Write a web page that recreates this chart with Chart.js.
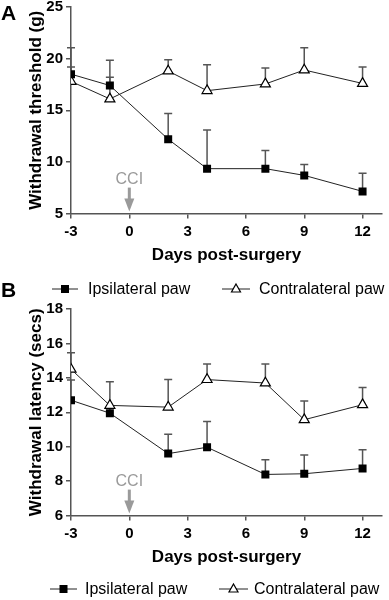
<!DOCTYPE html>
<html>
<head>
<meta charset="utf-8">
<script src="https://cdn.jsdelivr.net/npm/chart.js@4.4.1/dist/chart.umd.min.js"></script>
<style>
  body { margin: 0; background: #fff; }
  .panel { position: relative; width: 389px; height: 300px; }
  .tag { position: absolute; left: 1px; font: bold 21px "Liberation Sans", Arial, sans-serif; line-height: 1; }
</style>
</head>
<body>
<div class="panel"><canvas id="chartA"></canvas><div class="tag" style="top:2px">A</div></div>
<div class="panel"><canvas id="chartB"></canvas><div class="tag" style="top:-21px">B</div></div>
<script>
// days after surgery where measurements were taken
const days = [-3, -1, 2, 4, 7, 9, 12];

// panel A: withdrawal threshold (g), mean and SEM
const ipsiThreshold = [18.5, 17.4, 12.2, 9.35, 9.35, 8.7, 7.15];
const ipsiThresholdErr = [2.55, 2.45, 2.5, 3.75, 1.75, 1.05, 1.75];
const contraThreshold = [17.8, 16.1, 18.8, 16.9, 17.55, 18.9, 17.6];
const contraThresholdErr = [1.4, 2.1, 1.1, 2.5, 1.55, 2.15, 1.6];

// panel B: withdrawal latency (secs), mean and SEM
const ipsiLatency = [12.7, 11.95, 9.6, 9.97, 8.39, 8.43, 8.74];
const ipsiLatencyErr = [1.17, 0.35, 1.13, 1.5, 0.86, 1.09, 1.09];
const contraLatency = [14.5, 12.4, 12.3, 13.9, 13.7, 11.57, 12.44];
const contraLatencyErr = [0.96, 1.37, 1.6, 0.9, 1.1, 1.08, 1.0];

const seriesLabels = ['Ipsilateral paw', 'Contralateral paw'];
const surgeryDay = 0;
const surgeryLabel = 'CCI';

const FONT = '"Liberation Sans", Arial, Helvetica, sans-serif';
const AXIS_GREY = '#555';

// one-sided (upward) error bars with caps
const errorBars = {
  id: 'errorBars',
  beforeDatasetsDraw(chart) {
    const ctx = chart.ctx;
    const y = chart.scales.y;
    ctx.save();
    ctx.strokeStyle = AXIS_GREY;
    ctx.lineWidth = 1.5;
    chart.data.datasets.forEach((ds, i) => {
      const meta = chart.getDatasetMeta(i);
      meta.data.forEach((pt, j) => {
        const top = y.getPixelForValue(ds.data[j].y + ds.errors[j]);
        ctx.beginPath();
        ctx.moveTo(pt.x, pt.y);
        ctx.lineTo(pt.x, top);
        ctx.moveTo(pt.x - 4, top);
        ctx.lineTo(pt.x + 4, top);
        ctx.stroke();
      });
    });
    ctx.restore();
  }
};

// grey "CCI" label with a down arrow at the surgery day
const surgeryMark = {
  id: 'surgeryMark',
  afterDraw(chart) {
    const ctx = chart.ctx;
    const x = chart.scales.x.getPixelForValue(surgeryDay);
    const b = chart.chartArea.bottom;
    ctx.save();
    ctx.fillStyle = '#9a9a9a';
    ctx.font = '16px ' + FONT;
    ctx.textAlign = 'center';
    ctx.textBaseline = 'middle';
    ctx.fillText(surgeryLabel, x, b - 34);
    ctx.fillRect(x - 1.5, b - 26, 3, 12);
    ctx.beginPath();
    ctx.moveTo(x - 5, b - 15);
    ctx.lineTo(x + 5, b - 15);
    ctx.lineTo(x, b - 2);
    ctx.closePath();
    ctx.fill();
    ctx.restore();
  }
};

function drawMarker(ctx, ds, x, y) {
  ctx.fillStyle = ds.pointBackgroundColor;
  ctx.strokeStyle = ds.pointBorderColor;
  ctx.lineWidth = 1.2;
  if (ds.pointStyle === 'rect') {
    ctx.fillRect(x - 4, y - 4, 8, 8);
  } else {
    ctx.beginPath();
    ctx.moveTo(x, y - 5);
    ctx.lineTo(x + 4.5, y + 3);
    ctx.lineTo(x - 4.5, y + 3);
    ctx.closePath();
    ctx.fill();
    ctx.stroke();
  }
}

// legend row: short line with marker, then label
const lineLegend = {
  id: 'lineLegend',
  afterDraw(chart, args, opts) {
    const ctx = chart.ctx;
    ctx.save();
    ctx.font = '16px ' + FONT;
    ctx.textBaseline = 'middle';
    chart.data.datasets.forEach((ds, i) => {
      const it = opts.items[i];
      ctx.strokeStyle = '#222';
      ctx.lineWidth = 1;
      ctx.beginPath();
      ctx.moveTo(it.x0, opts.y);
      ctx.lineTo(it.x1, opts.y);
      ctx.stroke();
      drawMarker(ctx, ds, (it.x0 + it.x1) / 2, opts.y);
      ctx.fillStyle = '#000';
      ctx.fillText(ds.label, it.text, opts.y + 1);
    });
    ctx.restore();
  }
};

function points(values) {
  return values.map((v, i) => ({ x: days[i], y: v }));
}

function makeChart(id, p) {
  const tickFont = { family: FONT, size: 15, weight: 'bold', lineHeight: 1.2 };
  const titleFont = { family: FONT, size: 17, weight: 'bold', lineHeight: 1.2 };
  const grid = { drawOnChartArea: false, drawTicks: true, tickLength: 5, color: AXIS_GREY, lineWidth: 1.5 };
  const border = { color: AXIS_GREY, width: 1.5 };
  return new Chart(document.getElementById(id), {
    type: 'line',
    data: {
      datasets: [
        {
          label: seriesLabels[0],
          data: points(p.ipsi),
          errors: p.ipsiErr,
          borderColor: '#222',
          borderWidth: 1,
          pointStyle: 'rect',
          pointRadius: 5.66,
          pointBackgroundColor: '#000',
          pointBorderColor: '#000',
          pointBorderWidth: 0
        },
        {
          label: seriesLabels[1],
          data: points(p.contra),
          errors: p.contraErr,
          borderColor: '#222',
          borderWidth: 1,
          pointStyle: 'triangle',
          pointRadius: 5.8,
          pointBackgroundColor: '#fff',
          pointBorderColor: '#000',
          pointBorderWidth: 1.2
        }
      ]
    },
    options: {
      responsive: true,
      maintainAspectRatio: false,
      animation: false,
      layout: { padding: { top: p.top, right: 6, bottom: p.bottom, left: 0 } },
      plugins: {
        legend: { display: false },
        tooltip: { enabled: false },
        lineLegend: p.legend
      },
      scales: {
        x: {
          type: 'linear',
          min: -3,
          max: 13,
          ticks: { stepSize: 3, includeBounds: false, font: tickFont, color: '#000', padding: 4 },
          grid: grid,
          border: border,
          title: { display: true, text: 'Days post-surgery', font: titleFont, color: '#000', padding: { top: 1, bottom: 0 } }
        },
        y: {
          min: p.yMin,
          max: p.yMax,
          ticks: { stepSize: p.yStep, font: tickFont, color: '#000', padding: 3 },
          grid: grid,
          border: border,
          title: { display: true, text: p.yTitle, font: titleFont, color: '#000', padding: { top: 26, bottom: 0 } },
          afterFit(s) { s.width = 71; s.paddingTop = 0; }
        }
      }
    },
    plugins: [errorBars, surgeryMark, lineLegend]
  });
}

makeChart('chartA', {
  ipsi: ipsiThreshold, ipsiErr: ipsiThresholdErr,
  contra: contraThreshold, contraErr: contraThresholdErr,
  yMin: 5, yMax: 25, yStep: 5, yTitle: 'Withdrawal threshold (g)',
  top: 6, bottom: 34,
  legend: { y: 289, items: [{ x0: 52, x1: 78, text: 88 }, { x0: 222, x1: 250, text: 259 }] }
});

makeChart('chartB', {
  ipsi: ipsiLatency, ipsiErr: ipsiLatencyErr,
  contra: contraLatency, contraErr: contraLatencyErr,
  yMin: 6, yMax: 18, yStep: 2, yTitle: 'Withdrawal latency (secs)',
  top: 9, bottom: 32,
  legend: { y: 289, items: [{ x0: 50, x1: 77, text: 85 }, { x0: 219, x1: 248, text: 254 }] }
});
</script>
</body>
</html>
